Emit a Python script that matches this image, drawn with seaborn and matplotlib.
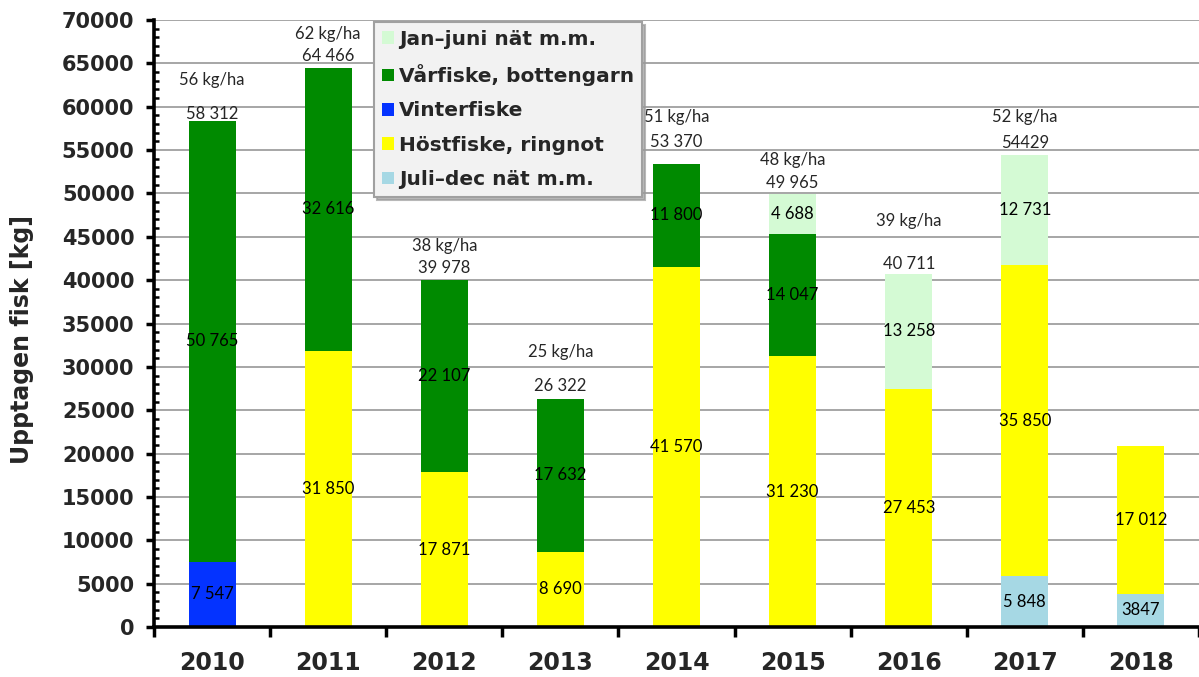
import matplotlib
matplotlib.use("Agg")
import matplotlib.pyplot as plt
from matplotlib.patches import Patch
from matplotlib.ticker import MultipleLocator, FixedLocator, NullFormatter
import numpy as np
import pandas as pd
import seaborn as sns

# Catch per year and fishing method (kg)
years = ["2010", "2011", "2012", "2013", "2014", "2015", "2016", "2017", "2018"]
juli_dec_nat = [0, 0, 0, 0, 0, 0, 0, 5848, 3847]
vinterfiske = [7547, 0, 0, 0, 0, 0, 0, 0, 0]
hostfiske_ringnot = [0, 31850, 17871, 8690, 41570, 31230, 27453, 35850, 17012]
varfiske_bottengarn = [50765, 32616, 22107, 17632, 11800, 14047, 0, 0, 0]
jan_juni_nat = [0, 0, 0, 0, 0, 4688, 13258, 12731, 0]
kg_per_ha = [56, 62, 38, 25, 51, 48, 39, 52, None]

# Labels written without a thousands separator
ungrouped_labels = {("total", "2017"), ("Juli–dec nät m.m.", "2018")}

# stacking order, bottom to top
series = [
    ("Juli–dec nät m.m.", juli_dec_nat, "#a6d8e4"),
    ("Vinterfiske", vinterfiske, "#0433ff"),
    ("Höstfiske, ringnot", hostfiske_ringnot, "#ffff00"),
    ("Vårfiske, bottengarn", varfiske_bottengarn, "#008a00"),
    ("Jan–juni nät m.m.", jan_juni_nat, "#d4fad4"),
]
legend_order = [4, 3, 1, 2, 0]

# vertical offsets (px) of the labels above each bar
total_offset_px = [7, 12, 12, 13, 22, 11, 10, 12, 0]
kgha_offset_px = [41, 34, 34, 47, 47, 34, 53, 38, 0]


def fmt(v, grouped=True):
    v = int(round(v))
    return f"{v:,}".replace(",", " ") if grouped else str(v)


sns.set_style("white")
plt.rcParams["font.family"] = ["DejaVu Sans"]
label_font = ["Lato", "DejaVu Sans"]
label_size = 12

fig = plt.figure(figsize=(11.99, 6.77), dpi=100)
ax = fig.add_axes([154 / 1199, 50 / 677, 1 - 154 / 1199, 607 / 677])

# Cumulative tops, drawn tallest first so lower layers sit on top
df = pd.DataFrame({"year": years})
cum = np.zeros(len(years))
tops = []
for name, vals, color in series:
    bottoms = cum.copy()
    cum = cum + np.array(vals, dtype=float)
    tops.append((name, bottoms, cum.copy(), vals, color))

bar_width = 0.405
for name, bottoms, top, vals, color in reversed(tops):
    d = df.assign(top=top)
    sns.barplot(data=d, x="year", y="top", color=color, width=bar_width,
                saturation=1, ax=ax, zorder=2, linewidth=0, order=years)

# segment value labels
for name, bottoms, top, vals, color in tops:
    for i, v in enumerate(vals):
        if v <= 0:
            continue
        grouped = (name, years[i]) not in ungrouped_labels
        ax.text(i, bottoms[i] + v / 2, fmt(v, grouped), ha="center", va="center",
                fontsize=label_size, family=label_font, color="black", zorder=4)

# totals and kg/ha above bars
totals = cum
px2pt = 72 / 100
for i, y in enumerate(years):
    if kg_per_ha[i] is None:
        continue
    grouped = ("total", y) not in ungrouped_labels
    ax.annotate(fmt(totals[i], grouped), (i, totals[i]),
                xytext=(0, total_offset_px[i] * px2pt), textcoords="offset points",
                ha="center", va="center", fontsize=label_size, family=label_font, zorder=4)
    ax.annotate(f"{kg_per_ha[i]} kg/ha", (i, totals[i]),
                xytext=(0, kgha_offset_px[i] * px2pt), textcoords="offset points",
                ha="center", va="center", fontsize=label_size, family=label_font, zorder=4)

# axes, ticks and grid
ax.set_ylim(0, 70000)
ax.set_xlim(-0.5, len(years) - 0.5)
ax.yaxis.set_major_locator(MultipleLocator(5000))
ax.yaxis.set_minor_locator(MultipleLocator(1000))
ax.yaxis.grid(True, which="major", color="#a6a6a6", linewidth=1.4, zorder=0)
ax.set_axisbelow(True)

ax.xaxis.set_major_locator(FixedLocator(np.arange(-0.5, len(years), 1.0)))
ax.xaxis.set_major_formatter(NullFormatter())
ax.set_xticks(np.arange(len(years)), labels=years, minor=True)
ax.tick_params(axis="x", which="major", direction="out", length=7, width=2.5,
               color="black", bottom=True)
ax.tick_params(axis="x", which="minor", length=0, pad=17, labelsize=17)
for t in ax.get_xticklabels(minor=True):
    t.set_fontweight("bold")

ax.tick_params(axis="y", which="major", direction="out", length=6, width=2.5,
               color="black", left=True, labelsize=15, pad=8)
ax.tick_params(axis="y", which="minor", direction="in", length=3.5, width=1.8,
               color="black", left=True)
for t in ax.get_yticklabels():
    t.set_fontweight("bold")

ax.set_xlabel("")
ax.set_ylabel("Upptagen fisk [kg]", fontsize=17, fontweight="bold")
ax.yaxis.set_label_coords(-120 / 1045, 0.474)

for side in ["top", "right"]:
    ax.spines[side].set_visible(False)
for side in ["left", "bottom"]:
    ax.spines[side].set_linewidth(2.6)
    ax.spines[side].set_color("black")
    ax.spines[side].set_zorder(5)

handles = [Patch(facecolor=series[k][2], edgecolor="none", label=series[k][0])
           for k in legend_order]
leg = ax.legend(handles=handles, loc="upper left", bbox_to_anchor=(0.2105, 0.997),
                frameon=True, fancybox=False, shadow={"color": "#9a9a9a", "alpha": 0.7},
                facecolor="#f2f2f2", edgecolor="#a0a0a0", framealpha=1,
                handlelength=0.6, handleheight=0.6, handletextpad=0.25,
                labelspacing=0.76, borderpad=0.4, borderaxespad=0,
                prop={"weight": "bold", "size": 14.5})
leg.set_zorder(6)
leg.get_frame().set_linewidth(1.5)

fig.savefig("out.png", dpi=100)
